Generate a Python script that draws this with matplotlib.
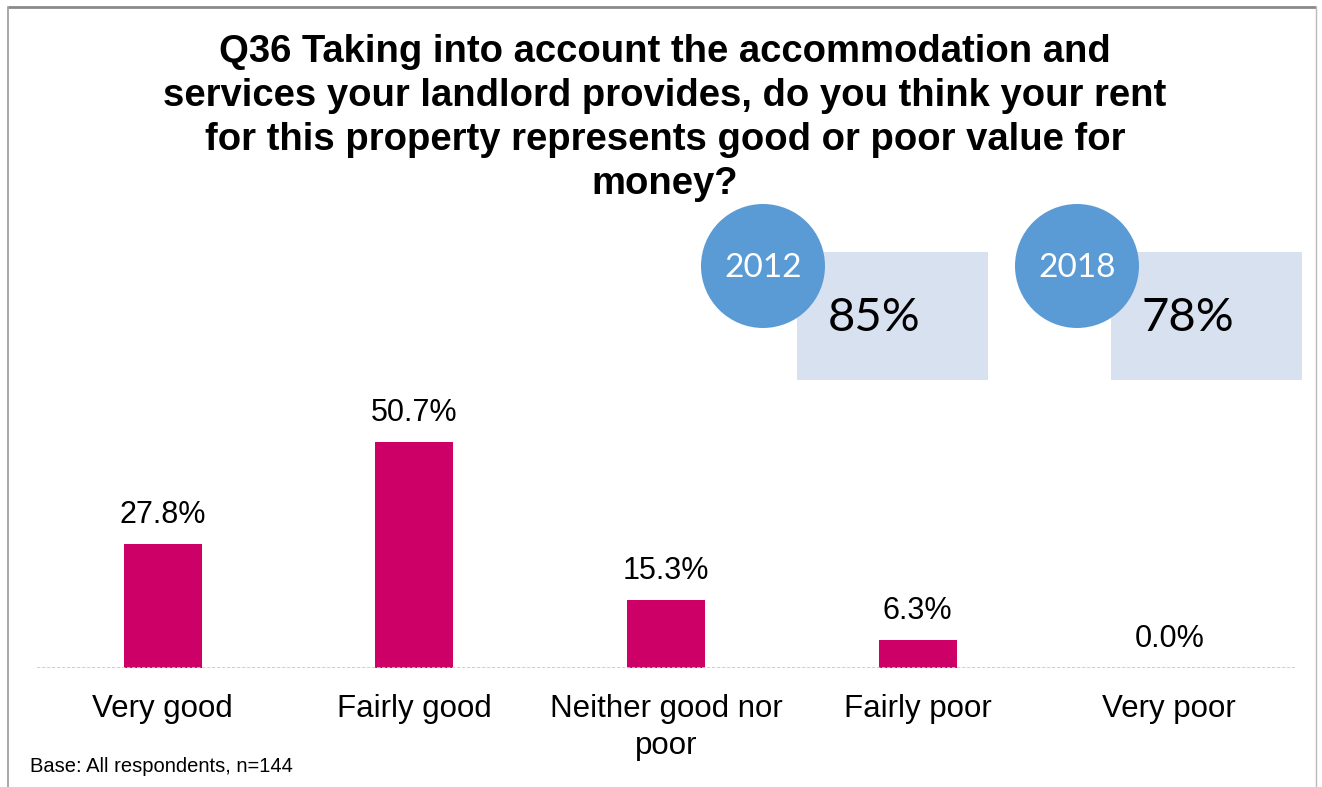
import matplotlib
matplotlib.use("Agg")
import matplotlib.pyplot as plt
from matplotlib.patches import Circle, Rectangle

# Survey responses
categories = ["Very good", "Fairly good", "Neither good nor\npoor", "Fairly poor", "Very poor"]
shares = [27.8, 50.7, 15.3, 6.3, 0.0]

# Satisfaction headline by survey year
years = ["2012", "2018"]
year_scores = ["85%", "78%"]

title = ("Q36 Taking into account the accommodation and\n"
         "services your landlord provides, do you think your rent\n"
         "for this property represents good or poor value for\n"
         "money?")
footnote = "Base: All respondents, n=144"

BAR = "#CC0066"
BUBBLE = "#5B9BD5"
PANEL = "#D8E1F0"

W, H = 1322, 787
fig = plt.figure(figsize=(W / 100, H / 100), dpi=100)
fig.patch.set_facecolor("white")

# Pixel-space overlay for the frame, headline panels and text
ov = fig.add_axes([0, 0, 1, 1])
ov.set_xlim(0, W)
ov.set_ylim(H, 0)
ov.axis("off")

# Chart frame
ov.plot([8, 1316], [7, 7], color="#8a8a8a", lw=2, solid_capstyle="butt")
ov.plot([8, 8], [7, H], color="#9a9a9a", lw=1.2)
ov.plot([1316, 1316], [7, H], color="#bbbbbb", lw=1.0)

ov.text(665, 34, title, ha="center", va="top", fontsize=27.5, fontweight="bold",
        family="Liberation Sans", linespacing=1.29, color="black")

circle_x = [763, 1077]
for cx, yr, val in zip(circle_x, years, year_scores):
    ov.add_patch(Rectangle((cx + 34, 252), 191, 128, facecolor=PANEL,
                           edgecolor="none", zorder=2))
    ov.add_patch(Circle((cx, 266), 62, facecolor=BUBBLE, edgecolor="none", zorder=3))
    ov.text(cx, 268, yr, ha="center", va="center", fontsize=24, color="white",
            family="Lato", zorder=4)
    ov.text(cx + 111, 318, val, ha="center", va="center", fontsize=34,
            color="black", family="Lato", zorder=4)

ov.text(30, 766, footnote, ha="left", va="center", fontsize=14.5,
        family="Liberation Sans", color="black")

# Bar chart
ax = fig.add_axes([37 / W, (H - 668) / H, 1258 / W, 267 / H])
x = range(len(categories))
ax.bar(x, shares, width=0.31, color=BAR, zorder=2)
ax.set_xlim(-0.5, len(categories) - 0.5)
ax.set_ylim(0, 60)
for xi, v in zip(x, shares):
    ax.annotate(f"{v:.1f}%", (xi, v), xytext=(0, 10), textcoords="offset points",
                ha="center", va="bottom", fontsize=22, family="Liberation Sans")
ax.axhline(0, color="#c8c8c8", lw=1.2, ls=(0, (2, 1)), zorder=3)
ax.set_xticks(list(x))
ax.set_xticklabels(categories, fontsize=22.5, family="Liberation Sans", linespacing=1.3)
ax.tick_params(axis="x", length=0, pad=19)
ax.set_yticks([])
for s in ax.spines.values():
    s.set_visible(False)
ax.patch.set_alpha(0)

fig.savefig("out.png", dpi=100, facecolor="white")
